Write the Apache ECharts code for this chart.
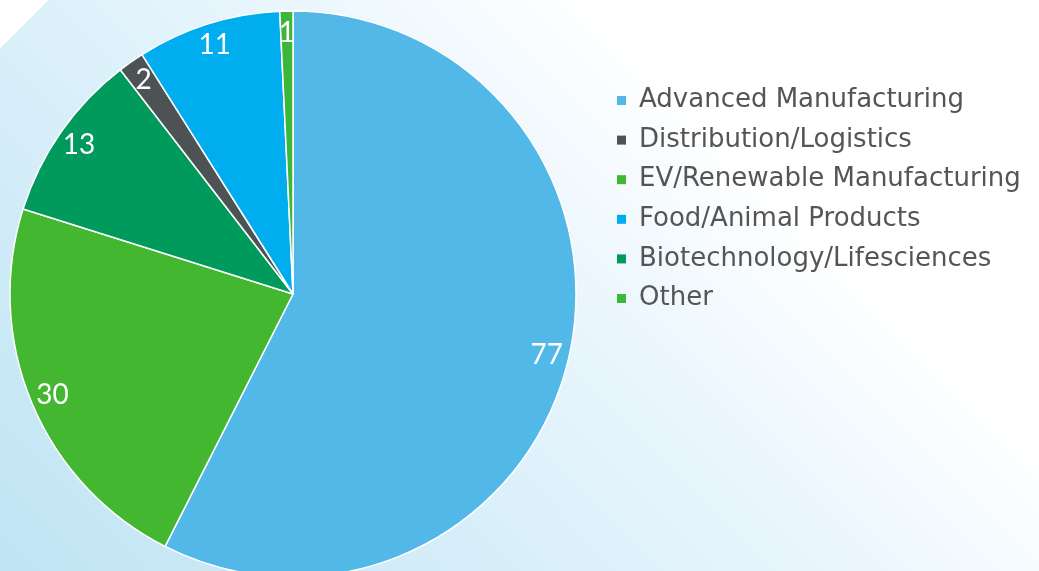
<!DOCTYPE html>
<html>
<head>
<meta charset="utf-8">
<style>
    html, body { margin: 0; padding: 0; }
    body {
        width: 1039px;
        height: 571px;
        overflow: hidden;
        background:
            linear-gradient(135deg, #ffffff 0 3%, rgba(255,255,255,0) 3%),
            linear-gradient(45deg, #bfe4f4 0%, #d6eef9 30%, #ecf7fd 55%, #ffffff 72%);
    }
    #chartSectors { width: 1039px; height: 571px; }
</style>
<script src="https://cdn.jsdelivr.net/npm/echarts@6/dist/echarts.min.js"></script>
</head>
<body>
<div id="chartSectors"></div>
<script>
// slice order as drawn, clockwise from the top
const sectors = ["Advanced Manufacturing", "EV/Renewable Manufacturing", "Biotechnology/Lifesciences",
    "Distribution/Logistics", "Food/Animal Products", "Other"];
const counts = [77, 30, 13, 2, 11, 1];
const colors = ["#52b8e8", "#42b72f", "#009b5c", "#4d5254", "#00adef", "#3db63a"];
// legend order
const legendOrder = ["Advanced Manufacturing", "Distribution/Logistics", "EV/Renewable Manufacturing",
    "Food/Animal Products", "Biotechnology/Lifesciences", "Other"];

var chartSectors = echarts.init(document.getElementById('chartSectors'));

const pieData = sectors.map((name, i) => ({ name: name, value: counts[i] }));

chartSectors.setOption({
    color: colors,
    animation: false,

    legend: {
        orient: "vertical",
        left: 617,
        top: 85.5,
        padding: 0,
        itemWidth: 9,
        itemHeight: 9,
        itemGap: 9.6,
        icon: "rect",
        itemStyle: { borderWidth: 0 },
        data: legendOrder,
        textStyle: {
            fontFamily: "DejaVu Sans",
            fontSize: 26,
            color: "#555",
            lineHeight: 30,
            padding: [0, 0, 0, 8]
        }
    },

    series: [
        {
            type: "pie",
            center: [293, 294],
            radius: [0, 283],
            startAngle: 90,
            clockwise: true,
            data: pieData,
            itemStyle: {
                borderColor: "#fff",
                borderWidth: 1.5
            },
            label: { show: false },
            labelLine: { show: false }
        },
        {
            // only carries the numbers, near the outer edge
            type: "pie",
            center: [293, 294],
            radius: [233, 283],
            startAngle: 90,
            clockwise: true,
            silent: true,
            data: pieData,
            itemStyle: { color: "rgba(0,0,0,0)" },
            label: {
                show: true,
                position: "inside",
                formatter: "{c}",
                color: "#fff",
                fontFamily: "Lato",
                fontSize: 28
            },
            labelLine: { show: false }
        }
    ]
});

window.addEventListener("resize", () => {
    if (chartSectors) chartSectors.resize();
});
</script>
</body>
</html>
